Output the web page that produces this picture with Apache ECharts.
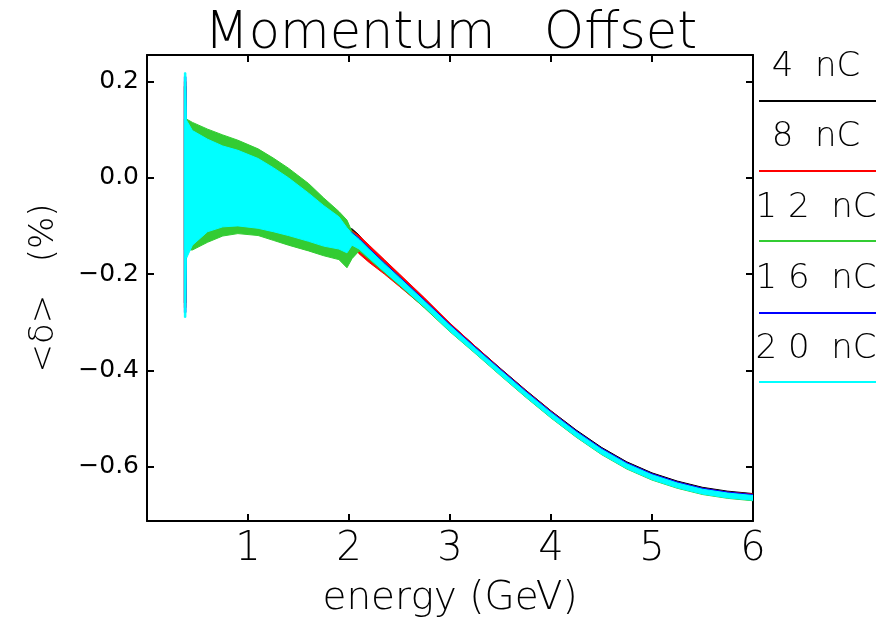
<!DOCTYPE html>
<html>
<head>
<meta charset="utf-8">
<script src="https://cdn.jsdelivr.net/npm/echarts@6/dist/echarts.min.js"></script>
<style>
  html, body { margin: 0; padding: 0; background: #fff; }
  #chart { width: 877px; height: 623px; }
</style>
</head>
<body>
<div id="chart"></div>
<script>
// Beam energy samples (GeV) shared by every charge setting
const energy = [0.370, 0.385, 0.390, 0.45, 0.60, 0.75, 0.90, 1.10, 1.25, 1.40, 1.60, 1.75, 1.90, 1.98, 2.03,
  2.10, 2.20, 2.35, 2.50, 2.75, 3.00, 3.25, 3.50, 3.75, 4.00, 4.25, 4.50, 4.75, 5.00, 5.25, 5.50, 5.75, 6.00];

// Upper / lower envelope of the mean momentum offset <δ> (%) for each bunch charge
const q4Upper = [0.190, 0.190, 0.100, 0.085, 0.068, 0.055, 0.045, 0.029, 0.010, -0.011, -0.043, -0.069, -0.091, -0.106, -0.106,
  -0.119, -0.145, -0.175, -0.204, -0.253, -0.303, -0.350, -0.396, -0.441, -0.484, -0.524, -0.560, -0.590, -0.613, -0.630, -0.643, -0.651, -0.656];
const q4Lower = [-0.260, -0.260, -0.150, -0.125, -0.100, -0.090, -0.088, -0.093, -0.100, -0.108, -0.120, -0.130, -0.136, -0.144, -0.132,
  -0.150, -0.151, -0.181, -0.210, -0.259, -0.309, -0.356, -0.402, -0.447, -0.490, -0.530, -0.566, -0.596, -0.619, -0.636, -0.649, -0.657, -0.662];

const q8Upper = [0.200, 0.200, 0.110, 0.090, 0.072, 0.058, 0.048, 0.032, 0.013, -0.008, -0.040, -0.066, -0.089, -0.110, -0.110,
  -0.120, -0.140, -0.170, -0.200, -0.250, -0.302, -0.350, -0.397, -0.442, -0.485, -0.526, -0.562, -0.592, -0.615, -0.632, -0.645, -0.653, -0.657];
const q8Lower = [-0.270, -0.270, -0.155, -0.130, -0.104, -0.094, -0.092, -0.097, -0.104, -0.112, -0.124, -0.134, -0.140, -0.148, -0.140,
  -0.158, -0.176, -0.200, -0.226, -0.270, -0.316, -0.360, -0.405, -0.449, -0.491, -0.531, -0.566, -0.596, -0.619, -0.636, -0.649, -0.657, -0.661];

const q12Upper = [0.122, 0.122, 0.122, 0.115, 0.101, 0.089, 0.078, 0.060, 0.041, 0.020, -0.012, -0.042, -0.070, -0.088, -0.112,
  -0.126, -0.147, -0.177, -0.206, -0.256, -0.306, -0.353, -0.399, -0.444, -0.487, -0.527, -0.563, -0.593, -0.616, -0.633, -0.646, -0.654, -0.659];
const q12Lower = [-0.150, -0.150, -0.150, -0.150, -0.134, -0.121, -0.116, -0.120, -0.130, -0.140, -0.152, -0.162, -0.170, -0.187, -0.168,
  -0.152, -0.170, -0.197, -0.224, -0.271, -0.320, -0.365, -0.411, -0.456, -0.499, -0.539, -0.575, -0.605, -0.628, -0.645, -0.658, -0.666, -0.671];

const q16Upper = [0.210, 0.210, 0.115, 0.093, 0.075, 0.061, 0.052, 0.035, 0.016, -0.005, -0.037, -0.063, -0.085, -0.108, -0.114,
  -0.126, -0.147, -0.177, -0.206, -0.255, -0.305, -0.352, -0.398, -0.443, -0.486, -0.526, -0.562, -0.592, -0.615, -0.632, -0.645, -0.653, -0.658];
const q16Lower = [-0.280, -0.280, -0.162, -0.135, -0.107, -0.097, -0.095, -0.100, -0.107, -0.115, -0.127, -0.137, -0.143, -0.150, -0.120,
  -0.130, -0.151, -0.181, -0.210, -0.259, -0.309, -0.356, -0.402, -0.447, -0.490, -0.530, -0.566, -0.596, -0.619, -0.636, -0.649, -0.657, -0.662];

const q20Upper = [0.218, 0.218, 0.120, 0.098, 0.080, 0.066, 0.057, 0.040, 0.021, 0.000, -0.032, -0.058, -0.081, -0.104, -0.116,
  -0.128, -0.149, -0.179, -0.208, -0.257, -0.307, -0.354, -0.400, -0.445, -0.488, -0.528, -0.564, -0.594, -0.617, -0.634, -0.647, -0.655, -0.660];
const q20Lower = [-0.290, -0.290, -0.168, -0.140, -0.112, -0.102, -0.100, -0.105, -0.112, -0.120, -0.132, -0.142, -0.148, -0.156, -0.140,
  -0.148, -0.167, -0.195, -0.222, -0.269, -0.319, -0.364, -0.410, -0.455, -0.498, -0.538, -0.574, -0.604, -0.627, -0.644, -0.657, -0.665, -0.670];

const chargeLabels = ['4  nC', '8  nC', '1 2  nC', '1 6  nC', '2 0  nC'];
const chargeColors = ['#000000', '#ff0000', '#33cc33', '#0000ff', '#00ffff'];
const yTicks = [0.2, 0.0, -0.2, -0.4, -0.6];
const xTicks = [1, 2, 3, 4, 5, 6];

const FONT = 'DejaVu Sans';

// Each charge is drawn as a filled envelope between its upper and lower traces
function bandSeries(name, color, upper, lower) {
  return {
    type: 'custom',
    name: name,
    coordinateSystem: 'cartesian2d',
    clip: true,
    silent: true,
    data: [[energy[0], lower[0]]],
    renderItem: function (params, api) {
      const pts = [];
      for (let i = 0; i < energy.length; i++) pts.push(api.coord([energy[i], upper[i]]));
      for (let i = energy.length - 1; i >= 0; i--) pts.push(api.coord([energy[i], lower[i]]));
      return {
        type: 'polygon',
        shape: { points: pts },
        style: { fill: color, stroke: color, lineWidth: 1 }
      };
    }
  };
}

const bands = [
  [q4Upper, q4Lower], [q8Upper, q8Lower], [q12Upper, q12Lower], [q16Upper, q16Lower], [q20Upper, q20Lower]
];

const series = bands.map((b, i) => bandSeries(chargeLabels[i], chargeColors[i], b[0], b[1]));

// Key on the right: label text above a coloured rule
const legendTextY = [67, 137, 208, 279, 349];
const legendLineY = [101, 171, 241, 313, 382];
const legendGraphics = [];
chargeLabels.forEach((lbl, i) => {
  legendGraphics.push({
    type: 'text', x: 816, y: legendTextY[i],
    style: { text: lbl, fill: '#000', font: '200 34px "' + FONT + '"', align: 'center', verticalAlign: 'middle' }
  });
  legendGraphics.push({
    type: 'line', shape: { x1: 759, y1: legendLineY[i], x2: 876, y2: legendLineY[i] },
    style: { stroke: chargeColors[i], lineWidth: 2 }
  });
});
legendGraphics.push({
  type: 'text', x: 451, y: 35,
  style: { text: 'Momentum   Offset', fill: '#000', font: '200 51px "' + FONT + '"', align: 'center', verticalAlign: 'middle' }
});

const axisLineStyle = { color: '#000', width: 2 };
const tickStyle = { color: '#000', width: 2 };

const fmtY = v => (v < 0 ? '\u2212' : '') + Math.abs(v).toFixed(1);

const option = {
  backgroundColor: '#fff',
  animation: false,
  grid: { left: 147, right: 124, top: 55, bottom: 102, containLabel: false },
  xAxis: [
    {
      type: 'value', min: 0, max: 6, interval: 1, position: 'bottom',
      axisLine: { onZero: false, lineStyle: axisLineStyle },
      axisTick: { inside: true, length: 7, lineStyle: tickStyle },
      axisLabel: {
        color: '#000', fontFamily: FONT, fontWeight: 200, fontSize: 40, margin: 9,
        formatter: v => (xTicks.indexOf(v) >= 0 ? String(v) : '')
      },
      splitLine: { show: false },
      name: 'energy (GeV)', nameLocation: 'middle', nameGap: 58,
      nameTextStyle: { color: '#000', fontFamily: FONT, fontWeight: 200, fontSize: 39 }
    },
    {
      type: 'value', min: 0, max: 6, interval: 1, position: 'top',
      axisLine: { onZero: false, lineStyle: axisLineStyle },
      axisTick: { inside: true, length: 7, lineStyle: tickStyle },
      axisLabel: { show: false },
      splitLine: { show: false }
    }
  ],
  yAxis: [
    {
      type: 'value', min: -0.713, max: 0.255, position: 'left',
      axisLine: { onZero: false, lineStyle: axisLineStyle },
      axisTick: { inside: true, length: 7, lineStyle: tickStyle, customValues: yTicks },
      axisLabel: { color: '#000', fontFamily: FONT, fontSize: 25, margin: 8, customValues: yTicks, formatter: fmtY },
      splitLine: { show: false },
      name: '<δ>   (%)', nameLocation: 'middle', nameGap: 86, nameRotate: 90,
      nameTextStyle: { color: '#000', fontFamily: FONT, fontWeight: 200, fontSize: 34 }
    },
    {
      type: 'value', min: -0.713, max: 0.255, position: 'right',
      axisLine: { onZero: false, lineStyle: axisLineStyle },
      axisTick: { inside: true, length: 7, lineStyle: tickStyle, customValues: yTicks },
      axisLabel: { show: false },
      splitLine: { show: false }
    }
  ],
  graphic: legendGraphics,
  series: series
};

const chart = echarts.init(document.getElementById('chart'), null, { renderer: 'canvas' });
chart.setOption(option);
</script>
</body>
</html>
